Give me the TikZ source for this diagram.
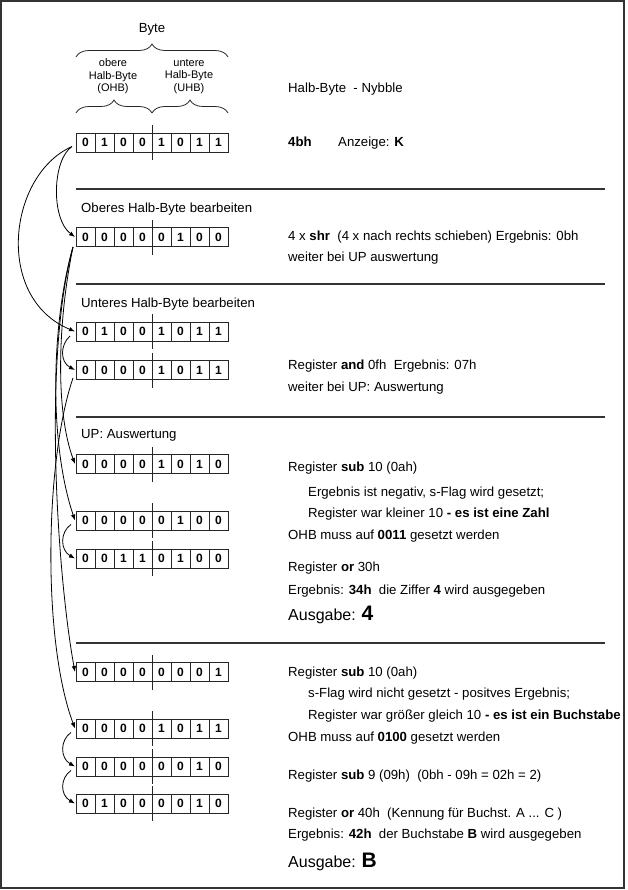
\documentclass[tikz,border=0pt]{standalone}
\usepackage{fontspec}
\setmainfont{Liberation Sans}
\usetikzlibrary{calc,arrows.meta,decorations.pathreplacing}

\tikzset{
  rowbox/.style={draw=black!85, line width=0.8bp, minimum width=152bp, minimum height=19bp, inner sep=0pt, outer sep=0pt},
  bitcell/.style={inner sep=0pt, font=\fontsize{12bp}{14bp}\selectfont\bfseries},
  cellline/.style={draw=black!85, line width=0.8bp},
  sepline/.style={draw=black!80, line width=1.1bp},
  frame/.style={draw=black!80, line width=1.3bp},
  txt/.style={anchor=base west, inner sep=0pt, font=\fontsize{13.2bp}{16bp}\selectfont},
  big/.style={anchor=base west, inner sep=0pt, font=\fontsize{16bp}{19bp}\selectfont},
  small/.style={inner sep=0pt, align=center, font=\fontsize{11bp}{12.6bp}\selectfont},
  flow/.style={draw=black, line width=0.8bp, -{Latex[length=6bp,width=4.5bp]}},
  bracedeco/.style={draw=black!85, line width=0.8bp, decorate, decoration={brace, amplitude=13bp}},
}

\newcommand{\bitrow}[3]{%
  \node[rowbox] (#1) at (152,#2) {};
  \foreach \bv [count=\i] in {#3} {\node[bitcell] at ({66.5+19*\i},#2) {\bv};}
  \foreach \i in {1,...,7} {\draw[cellline] ({76+19*\i},{#2-9.5}) -- ({76+19*\i},{#2+9.5});}
  \draw[cellline] (152,{#2-17.5}) -- (152,{#2+17.5});
}

\begin{document}
\begin{tikzpicture}[x=1bp,y=-1bp]
\useasboundingbox (0,0) rectangle (628,890);
\draw[frame] (1,1) rectangle (624,888);

% top labels and braces
\node[txt, anchor=base] (byte) at (152,32.5) {Byte};
\draw[bracedeco] (76,57) -- (228,57);
\node[small] (ohb) at (113,76.5) {obere\\Halb-Byte\\(OHB)};
\node[small] (uhb) at (189,76.5) {untere\\Halb-Byte\\(UHB)};
\draw[bracedeco] (76,113) -- (152,113);
\draw[bracedeco] (152,113) -- (228,113);

% separators
\draw[sepline] (76,189) -- (605,189);
\draw[sepline] (76,284) -- (605,284);
\draw[sepline] (76,417) -- (605,417);
\draw[sepline] (76,643) -- (605,643);

% byte rows
\bitrow{r1}{142.5}{0,1,0,0,1,0,1,1}
\bitrow{r2}{237}{0,0,0,0,0,1,0,0}
\bitrow{r3}{331.5}{0,1,0,0,1,0,1,1}
\bitrow{r4}{370}{0,0,0,0,1,0,1,1}
\bitrow{r5}{464}{0,0,0,0,1,0,1,0}
\bitrow{r6}{520.5}{0,0,0,0,0,1,0,0}
\bitrow{r7}{558.5}{0,0,1,1,0,1,0,0}
\bitrow{r8}{672}{0,0,0,0,0,0,0,1}
\bitrow{r9}{728.5}{0,0,0,0,1,0,1,1}
\bitrow{r10}{766.5}{0,0,0,0,0,0,1,0}
\bitrow{r11}{803.5}{0,1,0,0,0,0,1,0}

% texts
\node[txt] (t0) at (288,92.5) {Halb-Byte\ \ - Nybble};
\node[txt] (t1) at (288,146.5) {\textbf{4bh}};
\node[txt] (t2) at (338,146.5) {Anzeige: \textbf{K}};
\node[txt] (h1) at (81,212.5) {Oberes Halb-Byte bearbeiten};
\node[txt] (t3) at (288,240.5) {4 x \textbf{shr}\ \ (4 x nach rechts schieben) Ergebnis: 0bh};
\node[txt] (t4) at (288,261.5) {weiter bei UP auswertung};
\node[txt] (h2) at (81,307.5) {Unteres Halb-Byte bearbeiten};
\node[txt] (t5) at (288,369.5) {Register \textbf{and} 0fh\ \ Ergebnis: 07h};
\node[txt] (t6) at (288,391.5) {weiter bei UP: Auswertung};
\node[txt] (h3) at (81,438.5) {UP: Auswertung};
\node[txt] (t7) at (288,471.5) {Register \textbf{sub} 10 (0ah)};
\node[txt] (t8) at (308,496.5) {Ergebnis ist negativ, s-Flag wird gesetzt;};
\node[txt] (t9) at (308,517.5) {Register war kleiner 10 \textbf{- es ist eine Zahl}};
\node[txt] (t10) at (288,539.5) {OHB muss auf \textbf{0011} gesetzt werden};
\node[txt] (t11) at (288,571.5) {Register \textbf{or} 30h};
\node[txt] (t12) at (288,594.5) {Ergebnis: \textbf{34h}\ \ die Ziffer \textbf{4} wird ausgegeben};
\node[big] (a1) at (288,620) {Ausgabe: {\fontsize{21bp}{24bp}\selectfont\bfseries 4}};
\node[txt] (t13) at (288,676.5) {Register \textbf{sub} 10 (0ah)};
\node[txt] (t14) at (308,697.5) {s-Flag wird nicht gesetzt - positves Ergebnis;};
\node[txt] (t15) at (308,719.5) {Register war größer gleich 10 \textbf{- es ist ein Buchstabe}};
\node[txt] (t16) at (288,741.5) {OHB muss auf \textbf{0100} gesetzt werden};
\node[txt] (t17) at (288,779.5) {Register \textbf{sub} 9 (09h)\ \ (0bh - 09h = 02h = 2)};
\node[txt] (t18) at (288,817.5) {Register \textbf{or} 40h\ \ (Kennung für Buchst. A ... C )};
\node[txt] (t19) at (288,838.5) {Ergebnis: \textbf{42h}\ \ der Buchstabe \textbf{B} wird ausgegeben};
\node[big] (a2) at (288,867) {Ausgabe: {\fontsize{21bp}{24bp}\selectfont\bfseries B}};

% connectors
\draw[flow] ($(r1.west)+(-4,4)$) .. controls (52,160) and (51,219) .. ($(r2.west)+(-1,0)$);
\draw[flow] ($(r1.west)+(-4,4)$) .. controls (8,175) and (-6,298) .. ($(r3.west)+(-1,0)$);
\draw[flow] ($(r3.west)+(-6,4.5)$) .. controls (60,345) and (60,362) .. ($(r4.west)+(-1,0)$);
\draw[flow] ($(r2.west)+(-3,10)$) .. controls (58,320) and (55,410) .. ($(r5.west)+(-1,0)$);
\draw[flow] ($(r2.west)+(-3,10)$) .. controls (52,320) and (48,440) .. ($(r6.west)+(-1,0)$);
\draw[flow] ($(r2.west)+(-3,10)$) .. controls (42,360) and (58,580) .. ($(r8.west)+(-1,0)$);
\draw[flow] ($(r4.west)+(-3,8)$) .. controls (45,460) and (42,640) .. ($(r9.west)+(-1,0)$);
\draw[flow] ($(r6.west)+(-5,4)$) .. controls (60,532) and (60,550) .. ($(r7.west)+(-1,0)$);
\draw[flow] ($(r9.west)+(-5,4)$) .. controls (60,740) and (60,758) .. ($(r10.west)+(-1,0)$);
\draw[flow] ($(r10.west)+(-5,4)$) .. controls (60,778) and (60,795) .. ($(r11.west)+(-1,0)$);
\end{tikzpicture}
\end{document}
